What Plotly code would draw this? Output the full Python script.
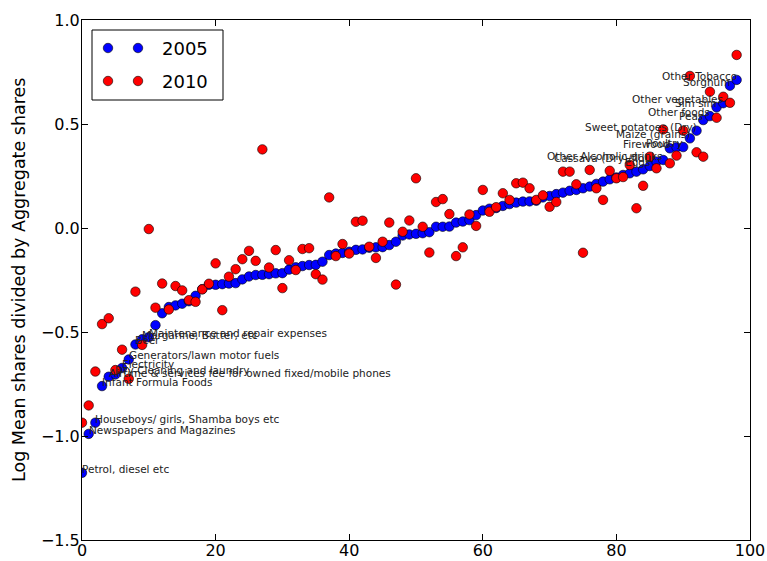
import plotly.graph_objects as go

# ---- data ----
rank = list(range(99))

share_2005 = [
    -1.177, -0.99, -0.936, -0.76, -0.715, -0.704, -0.673, -0.632, -0.560, -0.535,
    -0.525, -0.467, -0.41, -0.38, -0.372, -0.364, -0.352, -0.326, -0.294, -0.273,
    -0.273, -0.27, -0.267, -0.265, -0.247, -0.233, -0.226, -0.225, -0.222, -0.218,
    -0.217, -0.2, -0.189, -0.183, -0.178, -0.177, -0.162, -0.13, -0.123, -0.12,
    -0.114, -0.105, -0.103, -0.095, -0.093, -0.092, -0.082, -0.066, -0.036, -0.031,
    -0.028, -0.025, -0.02, 0.006, 0.006, 0.007, 0.026, 0.031, 0.038, 0.062,
    0.084, 0.093, 0.096, 0.106, 0.115, 0.122, 0.127, 0.128, 0.131, 0.147,
    0.154, 0.163, 0.17, 0.179, 0.183, 0.191, 0.199, 0.212, 0.223, 0.234,
    0.243, 0.255, 0.263, 0.271, 0.282, 0.298, 0.319, 0.327, 0.383, 0.388,
    0.389, 0.431, 0.468, 0.519, 0.538, 0.58, 0.6, 0.684, 0.712,
]

share_2010 = [
    -0.936, -0.853, -0.69, -0.462, -0.434, -0.683, -0.585, -0.725, -0.306, -0.562,
    -0.005, -0.383, -0.267, -0.392, -0.279, -0.3, -0.347, -0.355, -0.295, -0.268,
    -0.17, -0.395, -0.234, -0.198, -0.15, -0.11, -0.158, 0.378, -0.19, -0.106,
    -0.289, -0.155, -0.202, -0.101, -0.097, -0.222, -0.248, 0.147, -0.135, -0.077,
    -0.123, 0.03, 0.035, -0.09, -0.144, -0.066, 0.026, -0.272, -0.018, 0.036,
    0.239, 0.006, -0.118, 0.125, 0.139, 0.067, -0.135, -0.093, 0.065, 0.01,
    0.183, 0.078, 0.1, 0.167, 0.135, 0.215, 0.218, 0.191, 0.135, 0.157,
    0.102, 0.125, 0.271, 0.271, 0.21, -0.119, 0.279, 0.191, 0.135, 0.275,
    0.239, 0.245, 0.303, 0.095, 0.203, 0.343, 0.287, 0.474, 0.311, 0.348,
    0.468, 0.731, 0.364, 0.343, 0.655, 0.53, 0.631, 0.602, 0.832,
]

left_label_idx = [0, 1, 2, 3, 4, 5, 6, 7, 8, 9, 10]
left_label_text = [
    "Petrol, diesel etc",
    "Newspapers and Magazines",
    "Houseboys/ girls, Shamba boys etc",
    "Infant Formula Foods",
    "Airtime & services fee for owned fixed/mobile phones",
    "Dry-Cleaning and laundry",
    "Electricity",
    "Generators/lawn motor fuels",
    "Beer",
    "Margarine, Butter, etc",
    "Maintenance and repair expenses",
]

right_label_idx = [85, 86, 87, 88, 90, 91, 92, 93, 94, 95, 96, 97, 98]
right_label_text = [
    "Eggs",
    "Cassava (Dry)/flour",
    "Other Alcoholic drinks",
    "Firewood",
    "Poultry",
    "Maize (grains)",
    "Sweet potatoes (Dry)",
    "Peas",
    "Other foods",
    "Sim sim",
    "Other vegetables",
    "Sorghum",
    "Other Tobacco",
]

series_names = ["2005", "2010"]
series_colors = ["#0000ff", "#ff0000"]

FONT = "DejaVu Sans"
LBL = 10.5

fig = go.Figure()
for name, vals, col in zip(series_names, [share_2005, share_2010], series_colors):
    fig.add_trace(go.Scatter(
        x=rank, y=vals, mode="markers", name=name,
        marker=dict(color=col, size=9.5, line=dict(color="#000000", width=0.6)),
        showlegend=False,
    ))

annotations = []
for i, t in zip(left_label_idx, left_label_text):
    annotations.append(dict(x=rank[i], y=share_2005[i], xref="x", yref="y", text=t,
                            showarrow=False, xanchor="left", yanchor="bottom",
                            yshift=-3, xshift=-1, borderpad=0,
                            font=dict(family=FONT, size=LBL, color="#222222")))
for i, t in zip(right_label_idx, right_label_text):
    annotations.append(dict(x=rank[i], y=share_2005[i], xref="x", yref="y", text=t,
                            showarrow=False, xanchor="right", yanchor="bottom",
                            yshift=-3, xshift=1, borderpad=0,
                            font=dict(family=FONT, size=LBL, color="#222222")))

# y-axis title
annotations.append(dict(x=0, y=0.5, xref="paper", yref="paper",
                        text="Log Mean shares divided by Aggregate shares",
                        textangle=-90, showarrow=False, xshift=-63,
                        xanchor="center", yanchor="middle",
                        font=dict(family=FONT, size=17.5, color="#000000")))

# manual legend (two points per entry, like the original)
PW, PH = 668.0, 520.0
shapes = [dict(type="rect", xref="paper", yref="paper",
               x0=10 / PW, x1=141 / PW, y0=1 - 80 / PH, y1=1 - 10 / PH,
               line=dict(color="#000000", width=1), fillcolor="white", layer="above")]
row_y = [28, 61]
r = 4.75
for ry, name, col in zip(row_y, series_names, series_colors):
    for cx in [26, 56]:
        shapes.append(dict(type="circle", xref="paper", yref="paper",
                           x0=(cx - r) / PW, x1=(cx + r) / PW,
                           y0=1 - (ry + r) / PH, y1=1 - (ry - r) / PH,
                           fillcolor=col, line=dict(color="#000000", width=0.6),
                           layer="above"))
    annotations.append(dict(x=78 / PW, y=1 - ry / PH, xref="paper", yref="paper",
                            text=name, showarrow=False, xanchor="left", yanchor="middle",
                            font=dict(family=FONT, size=18, color="#000000")))

axis_common = dict(showgrid=False, zeroline=False, showline=True, linecolor="#000000",
                   linewidth=1, mirror="ticks", ticks="inside", ticklen=6,
                   tickcolor="#000000", tickfont=dict(family=FONT, size=16, color="#000000"),
                   automargin=False)

fig.update_layout(
    width=767, height=561,
    margin=dict(l=82, r=17, t=20, b=21),
    paper_bgcolor="white", plot_bgcolor="white",
    xaxis=dict(range=[0, 100], tickvals=[0, 20, 40, 60, 80, 100],
               ticklabelstandoff=-4, **axis_common),
    yaxis=dict(range=[-1.5, 1.0], tickvals=[-1.5, -1.0, -0.5, 0.0, 0.5, 1.0],
               tickformat=".1f", ticklabelstandoff=-2, **axis_common),
    annotations=annotations,
    shapes=shapes,
    showlegend=False,
)

# remove the default 8px page margin so the 767x561 figure fills the window exactly
fig.write_html("out.html",
               config={"displayModeBar": False},
               post_script="document.body.style.margin='0';document.body.style.overflow='hidden';")
